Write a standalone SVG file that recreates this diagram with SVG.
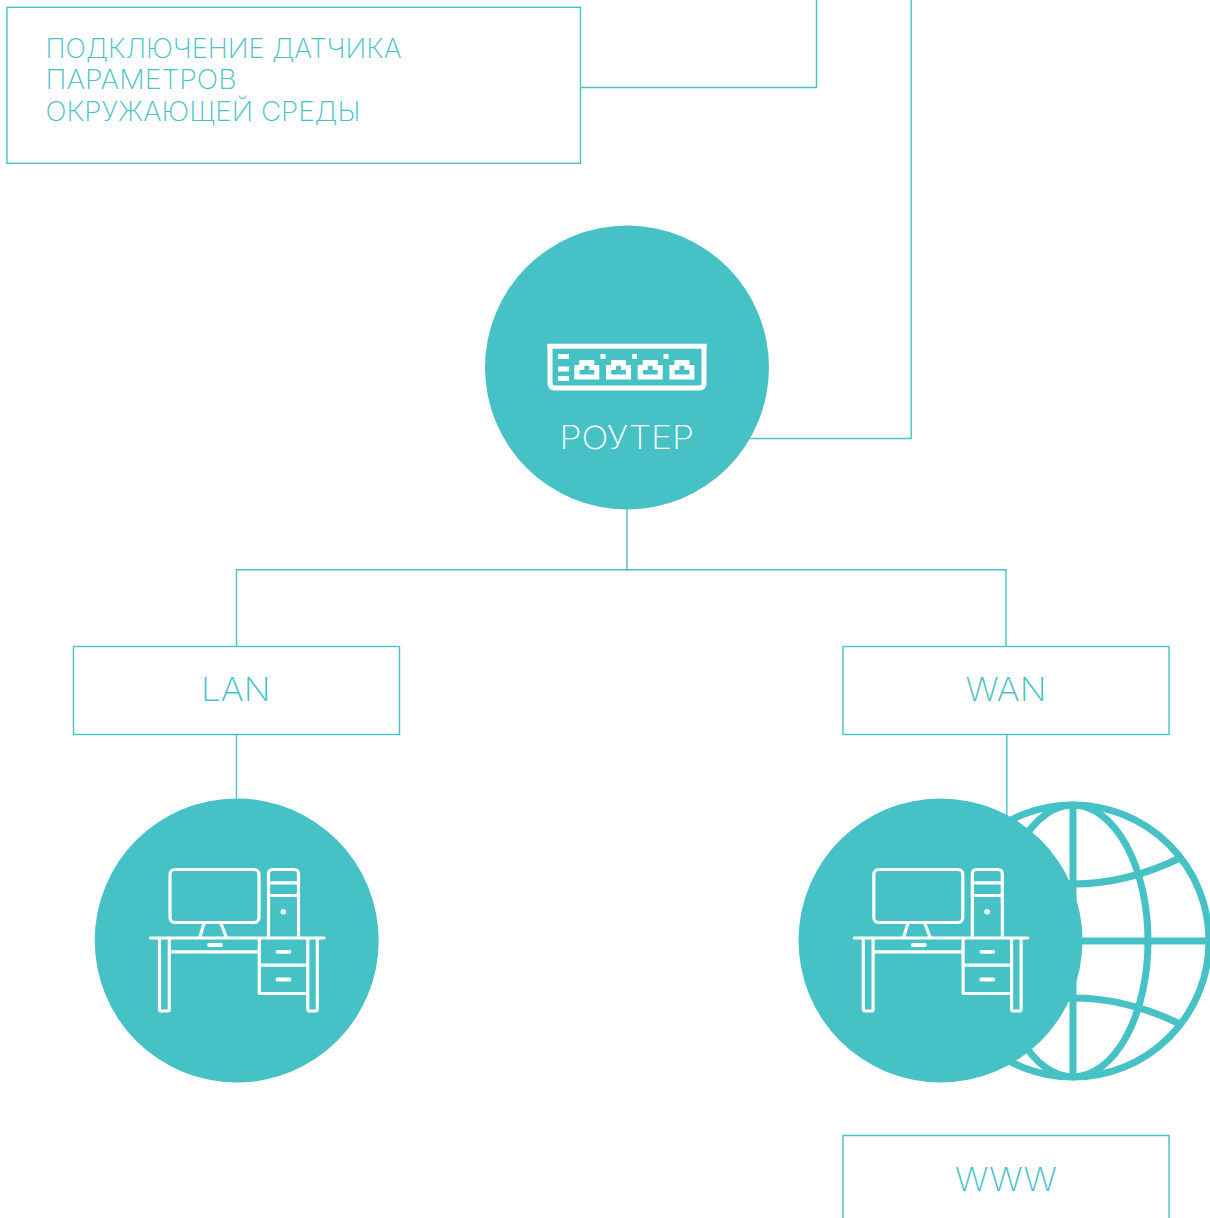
<svg xmlns="http://www.w3.org/2000/svg" xmlns:xlink="http://www.w3.org/1999/xlink" width="1210" height="1218" viewBox="0 0 1210 1218">
<style>
.c{fill:none;stroke:#46c2c6;stroke-width:1.4}
.b{fill:#fff;stroke:#46c2c6;stroke-width:1.4}
.t{font-family:"Inter","Lato","Liberation Sans",sans-serif;font-weight:200;fill:#46c2c6}
.n{fill:#46c2c6}
.i{fill:none;stroke:#fff;stroke-width:3.2;stroke-linecap:round;stroke-linejoin:round}
.h{fill:none;stroke:#fff;stroke-width:3.8;stroke-linecap:round}
.g{fill:none;stroke:#46c2c6;stroke-width:7}
</style>
<defs>
<g id="desk">
<rect x="170" y="869.500" width="89" height="53" rx="5" class="i"/>
<path class="i" d="M204 923.500L200 936.500M221 923.500L226 936.500M150.500 938H324M159.500 938V1009Q159.500 1011 161 1011H168Q169.300 1011 169.300 1009V938M307.800 938V1009Q307.800 1011 309 1011H316Q317.300 1011 317.300 1009V938M169.300 951.800H259.300M259.300 938V993.500H306.800M259.300 965.200H306.800M268.500 937V874Q268.500 869.500 273 869.500H294Q298.500 869.500 298.500 874V937M268.500 882.800H296Q298.500 882.800 298.500 885V893Q298.500 895.500 296 895.500H268.500"/>
<path class="h" d="M209 945H221M277.500 951.800H289.500M277.500 979.500H289.500"/>
<circle cx="283.300" cy="911.700" r="2.800" fill="#fff"/>
</g>
<path id="port" fill="#fff" fill-rule="evenodd" d="M574.300 379.500V365H579.300V360H594.300V365H599.300V379.500Z M579.500 370V374.500H594.300V370H589.300V365.700H584.300V370Z"/>
</defs>

<g id="connectors">
<path class="c" d="M580 87.500H816.500V0"/>
<path class="c" d="M748 438.500H911.200V0"/>
<path class="c" d="M627 509V571"/>
<path class="c" d="M236.500 646V569.700H1006V646"/>
<path class="c" d="M236.500 734V800"/>
<path class="c" d="M1006.800 734V820"/>
</g>

<g id="node-sensor">
<rect class="b" x="7" y="7.300" width="573.500" height="156"/>
<text class="t" font-size="27" x="45.500" y="57.500" textLength="356" lengthAdjust="spacingAndGlyphs">ПОДКЛЮЧЕНИЕ ДАТЧИКА</text>
<text class="t" font-size="27" x="45.500" y="89" textLength="191" lengthAdjust="spacingAndGlyphs">ПАРАМЕТРОВ</text>
<text class="t" font-size="27" x="45.500" y="121" textLength="315" lengthAdjust="spacingAndGlyphs">ОКРУЖАЮЩЕЙ СРЕДЫ</text>
</g>

<g id="node-router">
<circle class="n" cx="627" cy="367.500" r="142"/>
<path fill="none" stroke="#fff" stroke-width="5" d="M550 344V383Q550 388 555 388H699Q704 388 704 383V344"/>
<path fill="none" stroke="#fff" stroke-width="5" d="M547.500 346.300H706.500"/>
<g fill="#fff">
<rect x="558" y="354" width="11" height="5"/><rect x="558" y="366.500" width="11" height="5"/><rect x="558" y="376" width="11" height="5"/>
<rect x="600.500" y="354" width="5" height="5"/><rect x="632" y="354" width="5" height="5"/><rect x="663.500" y="354" width="5" height="5"/>
</g>
<use xlink:href="#port" href="#port"/>
<use xlink:href="#port" href="#port" x="31.700"/>
<use xlink:href="#port" href="#port" x="63.400"/>
<use xlink:href="#port" href="#port" x="95.100"/>
<text class="t" font-size="32" style="fill:#fff" x="559.500" y="449" textLength="134.500" lengthAdjust="spacingAndGlyphs">РОУТЕР</text>
</g>

<g id="node-lan">
<rect class="b" x="73.500" y="646.500" width="326" height="88"/>
<text class="t" font-size="33" x="201" y="701" textLength="69.500" lengthAdjust="spacingAndGlyphs">LAN</text>
</g>

<g id="node-wan">
<rect class="b" x="843" y="646.500" width="326" height="88"/>
<text class="t" font-size="33" x="965.500" y="701" textLength="81" lengthAdjust="spacingAndGlyphs">WAN</text>
</g>

<g id="node-lan-pc">
<circle class="n" cx="236.700" cy="940.500" r="142"/>
<use xlink:href="#desk" href="#desk"/>
</g>

<g id="node-globe">
<circle class="g" cx="1073" cy="941" r="136"/>
<ellipse class="g" cx="1073" cy="941" rx="75" ry="136"/>
<path class="g" d="M1073 805V1077M938 941H1208.500M966 858Q1073 910 1180 858M966 1024Q1073 972 1180 1024"/>
</g>

<g id="node-wan-pc">
<circle class="n" cx="940.500" cy="940.500" r="142"/>
<use xlink:href="#desk" href="#desk" x="703.800"/>
</g>

<g id="node-www">
<path class="b" d="M843 1218V1135.500H1169V1218"/>
<text class="t" font-size="33" x="955" y="1191" textLength="102" lengthAdjust="spacingAndGlyphs">WWW</text>
</g>
</svg>
